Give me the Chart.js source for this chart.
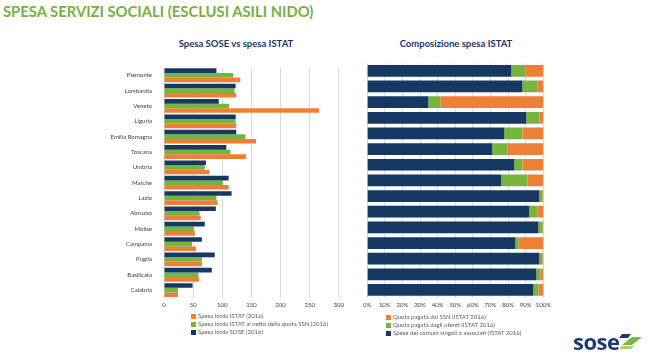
<!DOCTYPE html>
<html>
<head>
<meta charset="utf-8">
<script src="https://cdn.jsdelivr.net/npm/chart.js@4"></script>
<style>
  body { margin: 0; width: 653px; height: 360px; background: #fff; position: relative; overflow: hidden; font-family: Lato, "Open Sans", sans-serif; }
  #titolo { position: absolute; left: 3px; top: 1px; font-size: 16px; font-weight: bold; color: #76b043; white-space: nowrap; transform-origin: 0 0; transform: scaleX(0.925); }
  .sub { position: absolute; top: 38px; font-size: 9.5px; font-weight: bold; color: #1a3560; white-space: nowrap; transform: translateX(-50%); }
  .box { position: absolute; }
  .legenda { position: absolute; font-size: 6px; color: #595959; line-height: 8px; }
  .legenda span.q { display: inline-block; width: 5px; height: 5px; margin-right: 2px; vertical-align: -0.5px; }
  #logo { position: absolute; left: 573px; top: 326px; font-size: 22px; font-weight: bold; color: #1f3b6e; letter-spacing: -0.5px; font-family: "Open Sans", sans-serif; }
</style>
</head>
<body>
<div id="titolo">SPESA SERVIZI SOCIALI (ESCLUSI ASILI NIDO)</div>
<div class="sub" style="left:236px">Spesa SOSE vs spesa ISTAT</div>
<div class="sub" style="left:456px">Composizione spesa ISTAT</div>
<div class="box" style="left:100px; top:60px; width:248px; height:253px;"><canvas id="sx"></canvas></div>
<div class="box" style="left:359px; top:60px; width:196px; height:253px;"><canvas id="dx"></canvas></div>
<div class="legenda" id="legSx" style="left:191px; top:312px;"></div>
<div class="legenda" id="legDx" style="left:386px; top:313px;"></div>
<div id="logo">sose</div>
<svg style="position:absolute; left:618px; top:333px" width="26" height="18" viewBox="0 0 26 18">
  <polygon points="4,1 13,1 10,5 1,5" fill="#1f3b6e"/>
  <polygon points="14,4 24,4 14,12 4,12" fill="#7ab648"/>
  <polygon points="4,13 16,13 13,16 1,16" fill="#a7cf6a"/>
</svg>
<script>
const regioni = ["Piemonte","Lombardia","Veneto","Liguria","Emilia Romagna","Toscana","Umbria","Marche","Lazio","Abruzzo","Molise","Campania","Puglia","Basilicata","Calabria"];

// spesa per abitante (euro)
const spesaSose = [90,123,94,123,124,107,72,111,116,89,70,65,87,82,49];
const spesaIstatNettoSsn = [119,121,112,123,140,114,70,101,90,61,51,48,65,59,24];
const spesaIstat = [131,124,266,124,158,141,78,111,92,63,53,55,65,60,24];

// composizione spesa ISTAT (%)
const quotaComuni = [81.8,88.1,34.7,90.3,77.8,71.0,83.5,76.1,97.7,92.0,97.2,84.1,97.7,96.0,94.3];
const quotaUtenti = [8.0,8.5,6.8,7.4,10.3,8.5,4.6,14.8,1.7,4.6,2.2,1.7,1.7,2.3,2.9];
const quotaSsn = [10.2,3.4,58.5,2.3,11.9,20.5,11.9,9.1,0.6,3.4,0.6,14.2,0.6,1.7,2.8];

const tickSx = [0,50,100,150,200,250,300];

const navy = "#173862";
const verde = "#76b43e";
const arancio = "#ee7f37";
const griglia = "#d9d9d9";
const testo = "#404040";

Chart.defaults.font.family = "Lato, 'Open Sans', sans-serif";
Chart.defaults.animation = false;

new Chart(document.getElementById("sx"), {
  type: "bar",
  data: {
    labels: regioni,
    datasets: [
      { label: "Spesa lorda SOSE (2016)", data: spesaSose, backgroundColor: navy },
      { label: "Spesa lorda ISTAT al netto della quota SSN (2016)", data: spesaIstatNettoSsn, backgroundColor: verde },
      { label: "Spesa lorda ISTAT (2016)", data: spesaIstat, backgroundColor: arancio }
    ]
  },
  options: {
    indexAxis: "y",
    responsive: true,
    maintainAspectRatio: false,
    layout: { padding: { top: 3, right: 0 } },
    datasets: { bar: { categoryPercentage: 0.9, barPercentage: 1 } },
    plugins: { legend: { display: false }, tooltip: { enabled: false } },
    scales: {
      x: {
        min: 0, max: 300,
        afterBuildTicks: s => { s.ticks = tickSx.map(v => ({ value: v })); },
        grid: { color: griglia, drawTicks: false },
        border: { display: false },
        ticks: { color: testo, font: { size: 6 }, padding: 4, maxRotation: 0 }
      },
      y: {
        grid: { display: false },
        border: { display: false },
        ticks: { color: testo, font: { size: 6 }, padding: 4 },
        afterFit: s => { s.width = 64; }
      }
    }
  }
});

new Chart(document.getElementById("dx"), {
  type: "bar",
  data: {
    labels: regioni,
    datasets: [
      { label: "Spese dei comuni singoli o associati (ISTAT 2016)", data: quotaComuni, backgroundColor: navy },
      { label: "Quota pagata dagli utenti (ISTAT 2016)", data: quotaUtenti, backgroundColor: verde },
      { label: "Quota pagata dal SSN (ISTAT 2016)", data: quotaSsn, backgroundColor: arancio }
    ]
  },
  options: {
    indexAxis: "y",
    responsive: true,
    maintainAspectRatio: false,
    layout: { padding: { top: 3, left: 0, right: 0 } },
    datasets: { bar: { categoryPercentage: 0.75, barPercentage: 1 } },
    plugins: { legend: { display: false }, tooltip: { enabled: false } },
    scales: {
      x: {
        stacked: true, min: 0, max: 100,
        grid: { color: griglia, drawTicks: false },
        border: { display: false },
        ticks: { stepSize: 10, color: testo, font: { size: 6 }, padding: 4, maxRotation: 0, autoSkip: false, callback: v => v + "%" }
      },
      y: { stacked: true, display: false }
    }
  }
});

function legenda(id, voci) {
  document.getElementById(id).innerHTML = voci
    .map(v => '<div><span class="q" style="background:' + v[1] + '"></span>' + v[0] + '</div>')
    .join("");
}
legenda("legSx", [
  ["Spesa lorda ISTAT (2016)", arancio],
  ["Spesa lorda ISTAT al netto della quota SSN (2016)", verde],
  ["Spesa lorda SOSE (2016)", navy]
]);
legenda("legDx", [
  ["Quota pagata dal SSN (ISTAT 2016)", arancio],
  ["Quota pagata dagli utenti (ISTAT 2016)", verde],
  ["Spese dei comuni singoli o associati (ISTAT 2016)", navy]
]);
</script>
</body>
</html>
